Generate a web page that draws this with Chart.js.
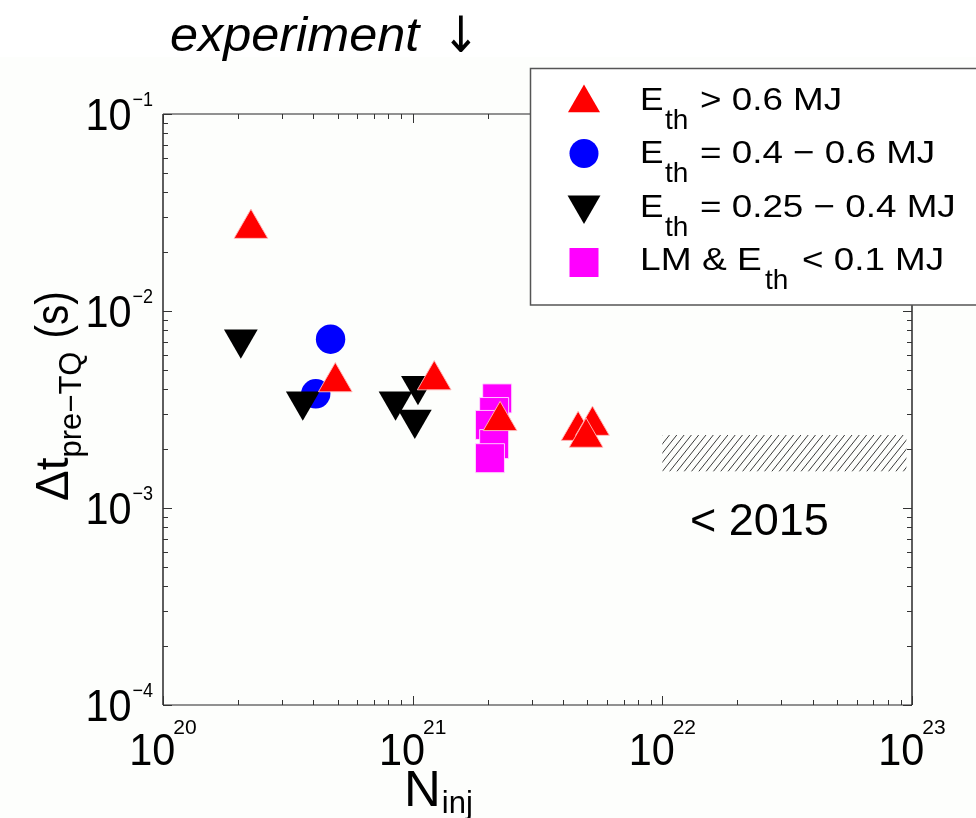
<!DOCTYPE html>
<html>
<head>
<meta charset="utf-8">
<script src="https://cdn.jsdelivr.net/npm/chart.js@4.4.1/dist/chart.umd.min.js"></script>
<style>
  html, body { margin: 0; padding: 0; background: #ffffff; }
  canvas { display: block; }
</style>
</head>
<body>
<canvas id="chart" width="976" height="818"></canvas>
<script>
// Injected particle number vs. pre-thermal-quench duration, grouped by thermal energy
const highEX = [2.25e20, 4.9e20, 1.22e21, 2.24e21, 4.6e21, 5.25e21, 4.95e21];
const highEY = [0.0262, 0.00436, 0.00446, 0.00277, 0.00247, 0.00262, 0.00228];

const midEX = [4.69e20, 4.09e20];
const midEY = [0.00719, 0.00380];

const lowEX = [2.05e20, 3.63e20, 8.54e20, 1.05e21, 1.02e21];
const lowEY = [0.00718, 0.00348, 0.00348, 0.00418, 0.00281];

const lmX = [2.18e21, 2.12e21, 2.04e21, 2.12e21, 2.04e21];
const lmY = [0.00360, 0.00307, 0.00264, 0.00211, 0.00179];

// Earlier (< 2015) range shown as a hatched band
const bandX = [1e22, 9.5e22];
const bandY = [1.53e-3, 2.35e-3];

// Axis decades
const xDecades = [20, 21, 22, 23];
const yDecades = [-1, -2, -3, -4];

const legendLabels = [
  ['E', 'th', '> 0.6 MJ'],
  ['E', 'th', '= 0.4 \u2212 0.6 MJ'],
  ['E', 'th', '= 0.25 \u2212 0.4 MJ'],
  ['LM & E', 'th', '< 0.1 MJ']
];

const FONT = "'Liberation Sans', Arial, Helvetica, sans-serif";

function pts(xs, ys) { return xs.map((x, i) => ({ x: x, y: ys[i] })); }

function text(ctx, s, x, y, size, sx, align, style, family) {
  ctx.save();
  ctx.font = (style ? style + ' ' : '') + size + 'px ' + (family || FONT);
  const w = ctx.measureText(s).width * sx;
  let x0 = x;
  if (align === 'center') x0 = x - w / 2;
  else if (align === 'right') x0 = x - w;
  ctx.translate(x0, y);
  ctx.scale(sx, 1);
  ctx.textAlign = 'left';
  ctx.textBaseline = 'alphabetic';
  ctx.fillText(s, 0, 0);
  ctx.restore();
  return w;
}

function measure(ctx, s, size, sx) {
  ctx.save();
  ctx.font = size + 'px ' + FONT;
  const w = ctx.measureText(s).width * sx;
  ctx.restore();
  return w;
}

function markerPath(ctx, kind, x, y, r) {
  ctx.beginPath();
  if (kind === 'up' || kind === 'down') {
    const sgn = kind === 'up' ? 1 : -1;
    for (let k = 0; k < 3; k++) {
      const a = k * 2 * Math.PI / 3;
      const px = x + Math.sin(a) * r;
      const py = y - sgn * Math.cos(a) * r;
      if (k === 0) ctx.moveTo(px, py); else ctx.lineTo(px, py);
    }
    ctx.closePath();
  } else if (kind === 'circle') {
    ctx.arc(x, y, r, 0, Math.PI * 2);
  } else {
    ctx.rect(x - r, y - r, 2 * r, 2 * r);
  }
}

const decor = {
  id: 'decor',
  beforeDraw(chart) {
    const ctx = chart.ctx;
    ctx.save();
    ctx.fillStyle = '#ffffff';
    ctx.fillRect(0, 0, chart.width, chart.height);
    ctx.fillStyle = '#fdfefc';
    ctx.fillRect(0, 57, chart.width, chart.height - 57);
    ctx.restore();
  },
  beforeDatasetsDraw(chart) {
    const ctx = chart.ctx;
    const xs = chart.scales.x, ys = chart.scales.y;
    const x1 = xs.getPixelForValue(bandX[0]);
    const x2 = xs.getPixelForValue(bandX[1]);
    const yTop = ys.getPixelForValue(bandY[1]);
    const yBot = ys.getPixelForValue(bandY[0]);
    const h = yBot - yTop;
    ctx.save();
    ctx.beginPath();
    ctx.rect(x1, yTop, x2 - x1, h);
    ctx.clip();
    ctx.strokeStyle = '#3a3a3a';
    ctx.lineWidth = 1;
    ctx.beginPath();
    for (let s = x1 - h; s < x2 + h; s += 7.3) {
      ctx.moveTo(s, yBot);
      ctx.lineTo(s + h * 0.8, yTop);
    }
    ctx.stroke();
    ctx.restore();
  },
  afterDatasetsDraw(chart) {
    const ctx = chart.ctx;
    const area = chart.chartArea;
    const xs = chart.scales.x, ys = chart.scales.y;
    ctx.save();

    // frame
    ctx.lineWidth = 1.5;
    ctx.strokeStyle = '#6e6e6e';
    ctx.beginPath();
    ctx.moveTo(area.left, area.top); ctx.lineTo(area.right, area.top);
    ctx.moveTo(area.left, area.bottom); ctx.lineTo(area.right, area.bottom);
    ctx.stroke();
    ctx.strokeStyle = '#2a2a2a';
    ctx.beginPath();
    ctx.moveTo(area.left, area.top); ctx.lineTo(area.left, area.bottom);
    ctx.moveTo(area.right, area.top); ctx.lineTo(area.right, area.bottom);
    ctx.stroke();

    // inward ticks on all four sides
    ctx.lineWidth = 1;
    ctx.strokeStyle = '#333';
    ctx.beginPath();
    for (let e = xDecades[0]; e <= xDecades[xDecades.length - 1]; e++) {
      for (let m = 1; m <= 9; m++) {
        if (e === xDecades[xDecades.length - 1] && m > 1) break;
        const px = Math.round(xs.getPixelForValue(m * Math.pow(10, e))) + 0.5;
        const len = m === 1 ? 9 : 5;
        ctx.moveTo(px, area.bottom); ctx.lineTo(px, area.bottom - len);
        ctx.moveTo(px, area.top); ctx.lineTo(px, area.top + len);
      }
    }
    for (let e = -4; e <= -1; e++) {
      for (let m = 1; m <= 9; m++) {
        if (e === -1 && m > 1) break;
        const py = Math.round(ys.getPixelForValue(m * Math.pow(10, e))) + 0.5;
        const len = m === 1 ? 9 : 5;
        ctx.moveTo(area.left, py); ctx.lineTo(area.left + len, py);
        ctx.moveTo(area.right, py); ctx.lineTo(area.right - len, py);
      }
    }
    ctx.stroke();

    // tick labels
    ctx.fillStyle = '#000';
    xDecades.forEach(e => {
      const px = xs.getPixelForValue(Math.pow(10, e));
      const wb = measure(ctx, '10', 45, 0.92);
      const we = measure(ctx, String(e), 21, 1);
      const x0 = px - (wb + we - 2) / 2;
      text(ctx, '10', x0, 765, 45, 0.92, 'left');
      text(ctx, String(e), x0 + wb - 2, 734, 21, 1, 'left');
    });
    yDecades.forEach(e => {
      const py = ys.getPixelForValue(Math.pow(10, e));
      const lbl = '\u2212' + String(-e);
      const we = text(ctx, lbl, 153, py - 8.5, 20, 0.9, 'right');
      text(ctx, '10', 153 - we - 1, py + 15.5, 45, 0.92, 'right');
    });

    // axis titles
    const wn = text(ctx, 'N', 404, 806, 50, 1.02, 'left');
    text(ctx, 'inj', 404 + wn + 1, 813, 31, 1, 'left');

    ctx.save();
    ctx.translate(68, 501);
    ctx.rotate(-Math.PI / 2);
    const wd = text(ctx, '\u0394t', 0, 0, 46, 1, 'left');
    const ws = text(ctx, 'pre\u2212TQ', wd, 13, 31, 1, 'left');
    text(ctx, '(s)', wd + ws + 13, 0, 46, 0.88, 'left');
    ctx.restore();

    // annotation for the hatched band
    text(ctx, '< 2015', 690, 535, 45, 1, 'left');

    // heading
    text(ctx, 'experiment', 170, 51, 48, 1.05, 'left', 'italic');
    text(ctx, '\u2193', 442, 52, 50, 0.9, 'left', '', "'DejaVu Sans', sans-serif");

    // legend
    ctx.fillStyle = '#ffffff';
    ctx.fillRect(530, 68, 460, 237);
    ctx.strokeStyle = '#555';
    ctx.lineWidth = 1.5;
    ctx.strokeRect(530.5, 68.5, 470, 236.5);

    const lgMarks = [
      { kind: 'up', color: '#ff0000', y: 103, r: 18.5 },
      { kind: 'circle', color: '#0000ff', y: 153.5, r: 14.5 },
      { kind: 'down', color: '#000000', y: 205, r: 19 },
      { kind: 'square', color: '#ff00ff', y: 262.5, r: 14.5 }
    ];
    lgMarks.forEach(m => {
      markerPath(ctx, m.kind, 584, m.y, m.r);
      ctx.fillStyle = m.color;
      ctx.fill();
    });
    ctx.fillStyle = '#000';
    const baselines = [110, 163.3, 216.7, 270];
    legendLabels.forEach((row, i) => {
      const b = baselines[i];
      const last = i === legendLabels.length - 1;
      text(ctx, row[0], 640, b, 32, last ? 1.16 : 1.1, 'left');
      text(ctx, row[1], last ? 765 : 665, b + 19, 28, 1.0, 'left');
      text(ctx, row[2], last ? 802 : 700, b, 32, 1.15, 'left');
    });

    ctx.restore();
  }
};

new Chart(document.getElementById('chart'), {
  type: 'scatter',
  data: {
    datasets: [
      {
        label: 'E_th > 0.6 MJ',
        data: pts(highEX, highEY),
        pointStyle: 'triangle',
        pointRadius: 19.5,
        backgroundColor: '#ff0000',
        borderColor: 'rgba(255,190,190,0.9)',
        borderWidth: 1,
        order: 0
      },
      {
        label: 'E_th = 0.25 - 0.4 MJ',
        data: pts(lowEX, lowEY),
        pointStyle: 'triangle',
        rotation: 180,
        pointRadius: 19.5,
        backgroundColor: '#000000',
        borderColor: '#000000',
        borderWidth: 0,
        order: 1
      },
      {
        label: 'E_th = 0.4 - 0.6 MJ',
        data: pts(midEX, midEY),
        pointStyle: 'circle',
        pointRadius: 14.7,
        backgroundColor: '#0000ff',
        borderColor: '#0000ff',
        borderWidth: 0,
        order: 2
      },
      {
        label: 'LM & E_th < 0.1 MJ',
        data: pts(lmX, lmY),
        pointStyle: 'rect',
        pointRadius: 20.5,
        backgroundColor: '#ff00ff',
        borderColor: 'rgba(255,220,255,0.9)',
        borderWidth: 1,
        order: 3
      }
    ]
  },
  options: {
    responsive: false,
    animation: false,
    events: [],
    layout: { padding: { left: 163, right: 64, top: 114, bottom: 113 } },
    plugins: { legend: { display: false }, tooltip: { enabled: false } },
    scales: {
      x: { type: 'logarithmic', min: 1e20, max: 1e23, display: false },
      y: { type: 'logarithmic', min: 1e-4, max: 1e-1, display: false }
    }
  },
  plugins: [decor]
});
</script>
</body>
</html>
